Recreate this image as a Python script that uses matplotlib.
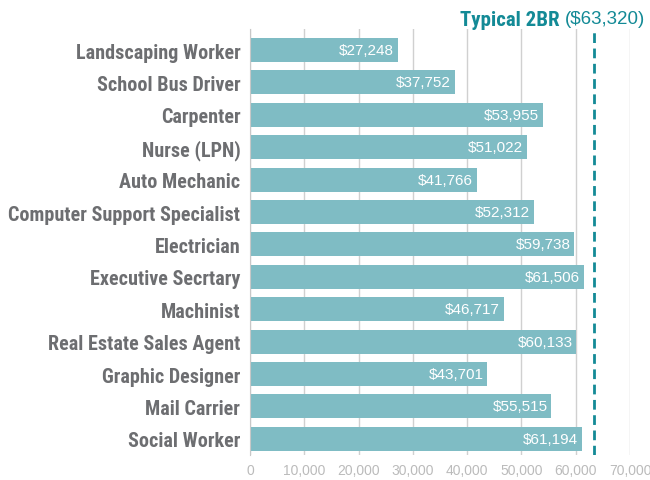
import matplotlib.pyplot as plt

# datos
ocupaciones = ['Landscaping Worker', 'School Bus Driver', 'Carpenter', 'Nurse (LPN)',
               'Auto Mechanic', 'Computer Support Specialist', 'Electrician',
               'Executive Secrtary', 'Machinist', 'Real Estate Sales Agent',
               'Graphic Designer', 'Mail Carrier', 'Social Worker']
salarios = [27248, 37752, 53955, 51022, 41766, 52312, 59738,
            61506, 46717, 60133, 43701, 55515, 61194]
renta_2br = 63320
ticks_x = [0, 10000, 20000, 30000, 40000, 50000, 60000, 70000]

COLOR_BARRA = '#7fbcc4'
COLOR_LINEA = '#138a96'
COLOR_TEXTO = '#6d6e71'
FUENTE_COND = 'Roboto Condensed'

fig = plt.figure(figsize=(6.5, 4.81), dpi=100)
ax = fig.add_axes([250/650, 1 - 456/481, 380/650, 426/481])

pos = list(range(len(ocupaciones)))
ax.barh(pos, salarios, height=0.74, color=COLOR_BARRA, zorder=2)

for y, v in zip(pos, salarios):
    ax.text(v - 700, y, f'${v:,}', ha='right', va='center', color='white',
            fontsize=11, family='Liberation Sans', zorder=3)

ax.axvline(renta_2br, color=COLOR_LINEA, lw=2, ls=(0, (3.5, 2)), zorder=3)

ax.set_xlim(0, 70000)
ax.set_ylim(12.5, -0.65)
ax.set_xticks(ticks_x)
ax.set_xticklabels(['0'] + [f'{t:,}' for t in ticks_x[1:]],
                   family='Liberation Sans', fontsize=10, color='#bbbbbb')
ax.set_yticks(pos)
ax.set_yticklabels(ocupaciones, family=FUENTE_COND, fontweight='bold',
                   fontsize=14.5, color=COLOR_TEXTO)
ax.tick_params(axis='y', length=0, pad=7)
ax.tick_params(axis='x', length=0, pad=6)
ax.grid(axis='x', color='#d0d0d0', lw=1, zorder=0)
for s in ['top', 'right', 'bottom']:
    ax.spines[s].set_visible(False)
ax.spines['left'].set_color('#c8c8c8')

# titulo de la linea
t2 = fig.text(645/650, 1 - 20/481, '($63,320)', ha='right', va='center',
              color=COLOR_LINEA, fontsize=13.5, family='Liberation Sans')
fig.canvas.draw()
bb = t2.get_window_extent()
fig.text((bb.x0 - 5) / 650, 1 - 20/481, 'Typical 2BR', ha='right', va='center',
         color=COLOR_LINEA, fontsize=15, fontweight='bold', family=FUENTE_COND)

fig.savefig('out.png', dpi=100)
